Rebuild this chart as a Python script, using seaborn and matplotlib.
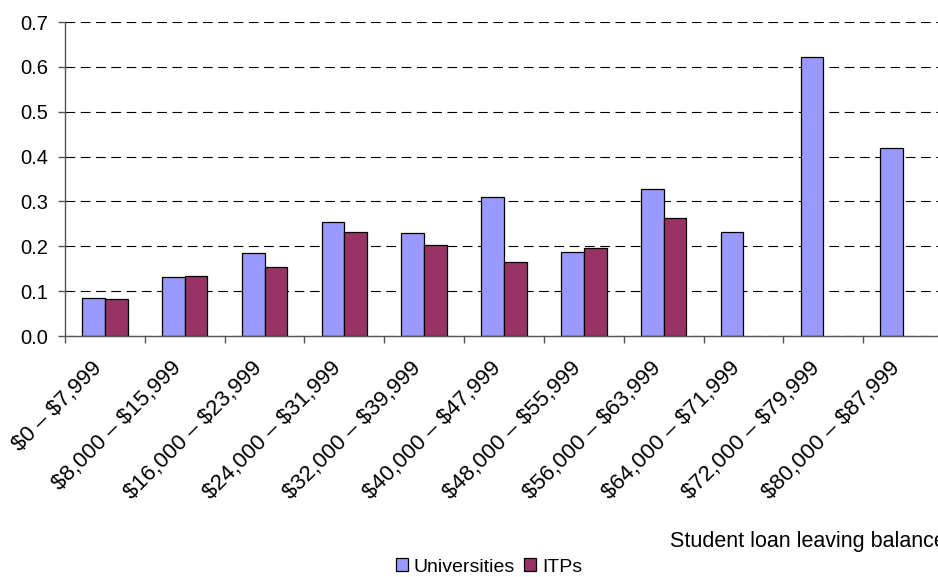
import matplotlib
matplotlib.use("Agg")
import matplotlib.pyplot as plt
import matplotlib.transforms as mtransforms
import seaborn as sns
import pandas as pd
import numpy as np
from matplotlib.patches import Patch

categories = ["$0 – $7,999", "$8,000 – $15,999", "$16,000 – $23,999", "$24,000 – $31,999",
              "$32,000 – $39,999", "$40,000 – $47,999", "$48,000 – $55,999", "$56,000 – $63,999",
              "$64,000 – $71,999", "$72,000 – $79,999", "$80,000 – $87,999"]
universities = [0.085, 0.132, 0.186, 0.254, 0.229, 0.309, 0.188, 0.328, 0.231, 0.621, 0.419]
itps = [0.083, 0.133, 0.153, 0.231, 0.202, 0.165, 0.196, 0.263, None, None, None]
series = ["Universities", "ITPs"]
colors = ["#9999FF", "#993366"]
yticks = [0.0, 0.1, 0.2, 0.3, 0.4, 0.5, 0.6, 0.7]

rows = []
for c, u, i in zip(categories, universities, itps):
    rows.append({"cat": c, "series": "Universities", "value": u})
    if i is not None:
        rows.append({"cat": c, "series": "ITPs", "value": i})
df = pd.DataFrame(rows)

sns.set_theme(style="white")
plt.rcParams['font.family'] = ['Liberation Sans', 'DejaVu Sans']
plt.rcParams['lines.scale_dashes'] = False
plt.rcParams['text.parse_math'] = False
plt.rcParams['text.color'] = 'black'
plt.rcParams['xtick.labelcolor'] = 'black'
plt.rcParams['ytick.labelcolor'] = 'black'

fig = plt.figure(figsize=(9.38, 5.77), dpi=100)
ax = fig.add_axes([65/938, 1-336/577, (943-65)/938, (336-22)/577])

sns.barplot(data=df, x="cat", y="value", hue="series", order=categories,
            hue_order=series, palette=colors, width=0.57, edgecolor="black",
            linewidth=0.9, saturation=1, errorbar=None, legend=False, ax=ax)

ax.set_ylim(0, 0.7)
ax.set_xlim(-0.5, len(categories) - 0.5)
ax.set_yticks(yticks)
ax.set_yticklabels([f"{v:.1f}" for v in yticks])
ax.set_xlabel("")
ax.set_ylabel("")

ax.yaxis.grid(True, color="black", linestyle=(0, (7, 4)), linewidth=0.8)
ax.set_axisbelow(True)
for s in ["top", "right"]:
    ax.spines[s].set_visible(False)
for s in ["left", "bottom"]:
    ax.spines[s].set_color("#555555")
    ax.spines[s].set_linewidth(1.0)

ax.tick_params(axis="y", which="major", length=5, width=1, color="#555555",
               labelcolor="black", direction="out", labelsize=14.5, pad=7, left=True)
ax.set_xticks(range(len(categories)))
ax.set_xticklabels(categories, rotation=45, ha="right", va="center",
                   rotation_mode="anchor", fontsize=16, color="black")
ax.tick_params(axis="x", which="major", length=0, pad=26)
shift = mtransforms.ScaledTranslation(-6/100, 7/100, fig.dpi_scale_trans)
for lbl in ax.get_xticklabels():
    lbl.set_transform(lbl.get_transform() + shift)
ax.set_xticks(np.arange(-0.5, len(categories), 1.0), minor=True)
ax.tick_params(axis="x", which="minor", length=5, width=1, color="#555555",
               direction="out", bottom=True)

fig.text(670/938, 1-542/577, "Student loan leaving balance", fontsize=15.5,
         va="center", ha="left", color="black")

handles = [Patch(facecolor=c, edgecolor="black", linewidth=0.9) for c in colors]
fig.legend(handles, series, loc="center", bbox_to_anchor=(489/938, 1-567/577),
           ncol=2, frameon=False, fontsize=14, handlelength=0.62, handleheight=0.62,
           handletextpad=0.3, columnspacing=0.45, borderpad=0, labelcolor="black")

fig.savefig("out.png", dpi=100)
